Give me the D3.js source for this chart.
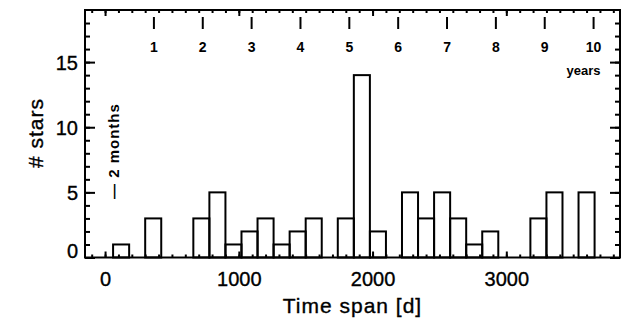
<!DOCTYPE html>
<html>
<head>
<meta charset="utf-8">
<script src="https://cdn.jsdelivr.net/npm/d3@7"></script>
<style>
  body { margin: 0; background: #fff; }
  svg { font-family: "Liberation Sans", Arial, sans-serif; }
  .thick { stroke: #000; stroke-width: 0.35px; }
</style>
</head>
<body>
<div id="chart"></div>
<script>
// histogram bins (lower edge, days) and counts
const binLo = [60, 180, 300, 420, 540, 660, 780, 900, 1020, 1140, 1260, 1380, 1500, 1620, 1740,
    1860, 1980, 2100, 2220, 2340, 2460, 2580, 2700, 2820, 2940, 3060, 3180, 3300, 3420, 3540];
const counts = [1, 0, 3, 0, 0, 3, 5, 1, 2, 3, 1, 2, 3, 0, 3,
    14, 2, 0, 5, 3, 5, 3, 1, 2, 0, 0, 3, 5, 0, 5];
const binWidth = 120;

const xTicks = [0, 1000, 2000, 3000];
const yTicks = [0, 5, 10, 15];
const years = [1, 2, 3, 4, 5, 6, 7, 8, 9, 10];
const daysPerYear = 365.25;
const markDays = 60; // 2 months marker

const W = 631, H = 328;
const L = 85, R = 620, T = 10, B = 257.5;

const svg = d3.select('#chart').append('svg')
    .attr('width', W)
    .attr('height', H);

const x = d3.scaleLinear().domain([-150, 3850]).range([L, R]);
const y = d3.scaleLinear().domain([0, 19]).range([B, T]);

const bins = binLo.map((lo, i) => ({ lo, hi: lo + binWidth, n: counts[i] }))
    .filter(d => d.n > 0);

// bars
svg.append('g')
    .selectAll('rect')
    .data(bins)
    .enter().append('rect')
    .attr('x', d => x(d.lo))
    .attr('y', d => y(d.n))
    .attr('width', d => x(d.hi) - x(d.lo))
    .attr('height', d => y(0) - y(d.n))
    .attr('fill', 'none')
    .attr('stroke', '#000')
    .attr('stroke-width', 2);

function styleAxis(g) {
    g.select('.domain').remove();
    g.selectAll('.tick line').attr('stroke', '#000').attr('stroke-width', 2);
    g.selectAll('.tick text').attr('fill', '#000').attr('class', 'thick');
}

// bottom axis: minor + major
svg.append('g')
    .attr('transform', `translate(0,${B})`)
    .call(d3.axisBottom(x).tickValues(d3.range(-100, 3850, 100)).tickSizeInner(-3).tickSizeOuter(0).tickFormat(''))
    .call(styleAxis);
svg.append('g')
    .attr('transform', `translate(0,${B})`)
    .call(d3.axisBottom(x).tickValues(xTicks).tickSizeInner(-6).tickSizeOuter(0).tickPadding(14).tickFormat(d3.format('d')))
    .call(styleAxis)
    .call(g => g.selectAll('.tick text').style('font-size', '20px'));

// top axis mirror
svg.append('g')
    .attr('transform', `translate(0,${T})`)
    .call(d3.axisTop(x).tickValues(d3.range(-100, 3850, 100)).tickSizeInner(-3).tickSizeOuter(0).tickFormat(''))
    .call(styleAxis);
svg.append('g')
    .attr('transform', `translate(0,${T})`)
    .call(d3.axisTop(x).tickValues(xTicks).tickSizeInner(-6).tickSizeOuter(0).tickFormat(''))
    .call(styleAxis);

// left axis
svg.append('g')
    .attr('transform', `translate(${L},0)`)
    .call(d3.axisLeft(y).tickValues(d3.range(0, 19, 1)).tickSizeInner(-5).tickSizeOuter(0).tickFormat(''))
    .call(styleAxis);
svg.append('g')
    .attr('transform', `translate(${L},0)`)
    .call(d3.axisLeft(y).tickValues(yTicks).tickSizeInner(-10).tickSizeOuter(0).tickPadding(7))
    .call(styleAxis)
    .call(g => g.selectAll('.tick text')
        .style('font-size', '20px')
        .attr('dy', d => d === 0 ? '0em' : '0.35em'));

// right axis mirror
svg.append('g')
    .attr('transform', `translate(${R},0)`)
    .call(d3.axisRight(y).tickValues(d3.range(0, 19, 1)).tickSizeInner(-5).tickSizeOuter(0).tickFormat(''))
    .call(styleAxis);
svg.append('g')
    .attr('transform', `translate(${R},0)`)
    .call(d3.axisRight(y).tickValues(yTicks).tickSizeInner(-10).tickSizeOuter(0).tickFormat(''))
    .call(styleAxis);

// frame
svg.append('rect')
    .attr('x', L).attr('y', T)
    .attr('width', R - L).attr('height', B - T)
    .attr('fill', 'none')
    .attr('stroke', '#000')
    .attr('stroke-width', 2);

// years scale at the top
const yr = svg.append('g');
yr.selectAll('line')
    .data(years)
    .enter().append('line')
    .attr('x1', d => x(d * daysPerYear))
    .attr('x2', d => x(d * daysPerYear))
    .attr('y1', 17).attr('y2', 29)
    .attr('stroke', '#000')
    .attr('stroke-width', 2);
yr.selectAll('text')
    .data(years)
    .enter().append('text')
    .attr('x', d => x(d * daysPerYear))
    .attr('y', 52)
    .attr('text-anchor', 'middle')
    .style('font-size', '14px')
    .style('font-weight', 'bold')
    .text(d => d);
yr.append('text')
    .attr('x', x(10 * daysPerYear) - 10)
    .attr('y', 75)
    .attr('text-anchor', 'middle')
    .style('font-size', '13px')
    .style('font-weight', 'bold')
    .text('years');

// 2 months marker
svg.append('text')
    .attr('transform', `translate(${x(markDays) + 6},199) rotate(-90)`)
    .style('font-size', '15px')
    .style('font-weight', 'bold')
    .style('letter-spacing', '1px')
    .text('\u2014 2 months');

// axis titles
svg.append('text')
    .attr('class', 'thick')
    .attr('x', (L + R) / 2)
    .attr('y', 313)
    .attr('text-anchor', 'middle')
    .style('font-size', '21px')
    .style('letter-spacing', '1px')
    .text('Time span [d]');

svg.append('text')
    .attr('class', 'thick')
    .attr('transform', `translate(43,133) rotate(-90)`)
    .attr('text-anchor', 'middle')
    .style('font-size', '21px')
    .style('letter-spacing', '1px')
    .text('# stars');
</script>
</body>
</html>
